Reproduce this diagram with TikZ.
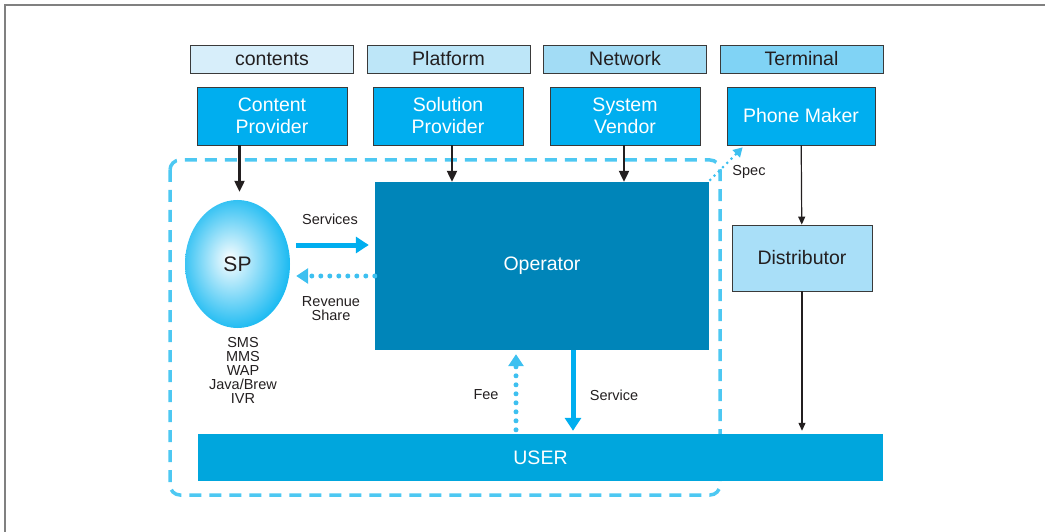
\documentclass[tikz,border=0pt]{standalone}
\usepackage{fontspec}
\setmainfont{Liberation Sans}
\usetikzlibrary{shapes.geometric}
\usetikzlibrary{arrows.meta}
\definecolor{hdA}{HTML}{D7EEFA}
\definecolor{hdB}{HTML}{BDE6F8}
\definecolor{hdC}{HTML}{A2DCF5}
\definecolor{hdD}{HTML}{80D3F5}
\definecolor{actblue}{HTML}{00AEEF}
\definecolor{opblue}{HTML}{0085B9}
\definecolor{userblue}{HTML}{00A6DD}
\definecolor{distblue}{HTML}{A9DFF8}
\definecolor{dotblue}{HTML}{3DC0F0}
\definecolor{dashblue}{HTML}{4DC8F2}
\definecolor{spblue}{HTML}{00B2F0}
\definecolor{ink}{HTML}{231F20}
\definecolor{boxline}{HTML}{3A3A3A}
\pgfdeclareradialshading{spshade}{\pgfpoint{-4bp}{2bp}}{color(0bp)=(white); color(3bp)=(white!88!spblue); color(30bp)=(spblue); color(50bp)=(spblue)}
\newcommand{\Lfont}{\fontsize{19.5}{22}\selectfont}
\newcommand{\Sfont}{\fontsize{14.5}{14}\selectfont}
\tikzset{
    head/.style = {rectangle, draw=boxline, line width=0.8pt, minimum width=163pt, minimum height=28pt, text=ink, font=\Lfont},
    actor/.style = {rectangle, draw=boxline, line width=0.8pt, fill=actblue, minimum width=150pt, minimum height=58pt, text=white, align=center, font=\Lfont},
    plain/.style = {rectangle, inner sep=0pt, text=ink, align=center, font=\Sfont},
    edgek/.style = {-{Triangle[length=11pt,width=10pt]}, line width=2.2pt, draw=ink},
    edgekt/.style = {-{Triangle[length=8pt,width=7pt]}, line width=1.2pt, draw=ink},
    edgeb/.style = {-{Triangle[length=13pt,width=16pt]}, line width=5pt, draw=actblue},
    edged/.style = {-{Triangle[length=12pt,width=15pt]}, line width=5pt, draw=dotblue, line cap=round, dash pattern=on 0pt off 9pt},
    edgesp/.style = {-{Triangle[length=9pt,width=10pt]}, line width=3pt, draw=dotblue, line cap=round, dash pattern=on 0pt off 6pt},
    hull/.style = {draw=dashblue, line width=3.5pt, dash pattern=on 12pt off 8pt, rounded corners=10pt}
}

\begin{document}
\begin{tikzpicture}[x=1pt,y=-1pt]
\useasboundingbox (0,0) rectangle (1045,532);
\draw[gray, line width=1.8pt] (5,532) -- (5,5) -- (1045,5);
%
\node[head, fill=hdA] at (272.0, 59) (cont) {contents};
\node[head, fill=hdB] at (448.5, 59) (plat) {Platform};
\node[head, fill=hdC] at (625.0, 59) (netw) {Network};
\node[head, fill=hdD] at (801.5, 59) (term) {Terminal};
%
\node[actor] at (272, 116) (cp) {Content\\Provider};
\node[actor] at (448, 116) (sol) {Solution\\Provider};
\node[actor] at (625, 116) (sv) {System\\Vendor};
\node[actor, minimum width=148pt] at (801, 116) (pm) {Phone Maker};
%
\draw[hull] (170,160) rectangle (720,495);
%
\node[ellipse, minimum width=105pt, minimum height=128pt, shading=spshade, font=\fontsize{21}{22}\selectfont, text=ink] at (237.5, 264) (sp) {SP};
\node[rectangle, fill=opblue, minimum width=334pt, minimum height=168pt, text=white, font=\Lfont] at (542, 266) (op) {Operator};
\node[rectangle, draw=boxline, line width=0.8pt, fill=distblue, minimum width=140pt, minimum height=66pt, text=ink, font=\Lfont] at (802, 258) (dist) {Distributor};
\node[rectangle, fill=userblue, minimum width=685pt, minimum height=47pt, text=white, font=\Lfont] at (540.5, 457.5) (user) {USER};
%
\node[plain] at (330, 219) (lserv) {Services};
\node[plain] at (331, 309) (lrev) {Revenue\\Share};
\node[plain] at (243, 370) (lsms) {SMS\\MMS\\WAP\\Java/Brew\\IVR};
\node[plain] at (486, 395) (lfee) {Fee};
\node[plain] at (614, 395) (lsvc) {Service};
\node[plain] at (749, 172) (lspec) {Spec};
%
\draw[edgek] ([xshift=2pt]sp.north |- cp.south) -- ([xshift=2pt,yshift=8pt]sp.north);
\draw[edgek] ([xshift=4pt]sol.south) -- ([xshift=4pt]sol.south |- op.north);
\draw[edgek] ([xshift=-1pt]sv.south) -- ([xshift=-1pt]sv.south |- op.north);
\draw[edgekt] (pm) -- (dist);
\draw[edgekt] (dist) -- ([yshift=3pt]dist.south |- user.north);
\draw[edgeb] ([shift={(6pt,19pt)}]sp.east) -- ([shift={(-6pt,21pt)}]op.west);
\draw[edged] ([yshift=-10pt]op.west) -- ([shift={(6pt,-12pt)}]sp.east);
\draw[edged] ([xshift=-24.5pt,yshift=4pt]user.north) -- ([xshift=-26pt,yshift=-4pt]op.south);
\draw[edgeb] ([xshift=31pt]op.south) -- ([xshift=32.5pt,yshift=3pt]user.north);
\draw[edgesp] ([shift={(1pt,2pt)}]op.north east) -- ([xshift=16pt,yshift=-2pt]pm.south west);
\end{tikzpicture}
\end{document}
